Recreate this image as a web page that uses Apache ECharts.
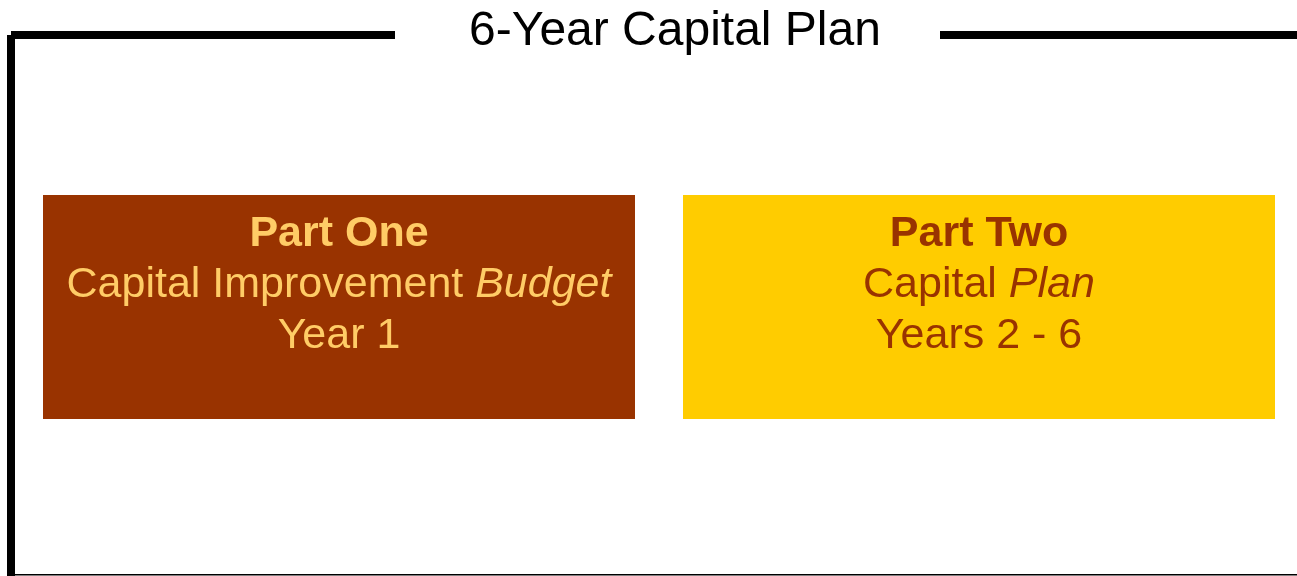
<!DOCTYPE html>
<html lang="en">
  <head>
    <meta charset="UTF-8" />
    <title>6-Year Capital Plan</title>
    <style>
      body {
        margin: 0;
        background-color: #ffffff;
      }
      #chart {
        width: 1297px;
        height: 576px;
      }
    </style>
    <script src="https://cdn.jsdelivr.net/npm/echarts@6/dist/echarts.min.js"></script>
  </head>
  <body>
    <div id="chart"></div>
    <script>
      // content
      const titleText = "6-Year Capital Plan";
      const partNames = ["Part One", "Part Two"];
      const partLead = ["Capital Improvement ", "Capital "];
      const partItalic = ["Budget", "Plan"];
      const partYears = ["Year 1", "Years 2 - 6"];

      const font = "'Liberation Sans', Arial, sans-serif";
      const boxFill = ["#993300", "#ffcc00"];
      const boxInk = ["#ffcc66", "#993300"];

      const W = 1297;
      const H = 576;

      function partBox(i) {
        const x = i === 0 ? 43 : 683;
        const w = 592;
        const ink = boxInk[i];
        return [
          {
            type: "rect",
            shape: { x: x, y: 195, width: w, height: 224 },
            style: { fill: boxFill[i] },
          },
          {
            type: "text",
            x: x + w / 2,
            y: 209,
            style: {
              text:
                "{b|" + partNames[i] + "}\n" +
                "{n|" + partLead[i] + "}{i|" + partItalic[i] + "}\n" +
                "{n|" + partYears[i] + "}",
              align: "center",
              verticalAlign: "top",
              rich: {
                b: { fontFamily: font, fontSize: 43, fontWeight: "bold", fill: ink, lineHeight: 51 },
                n: { fontFamily: font, fontSize: 43, fill: ink, lineHeight: 51 },
                i: { fontFamily: font, fontSize: 43, fontStyle: "italic", fill: ink, lineHeight: 51 },
              },
            },
          },
        ];
      }

      const chart = echarts.init(document.getElementById("chart"));
      chart.setOption({
        backgroundColor: "#ffffff",
        graphic: [
          // frame
          { type: "rect", shape: { x: 7, y: 35, width: 8, height: 541 }, style: { fill: "#000" } },
          { type: "rect", shape: { x: 11, y: 31, width: 384, height: 8 }, style: { fill: "#000" } },
          { type: "rect", shape: { x: 940, y: 31, width: W - 940, height: 8 }, style: { fill: "#000" } },
          { type: "rect", shape: { x: 15, y: 574, width: W - 15, height: 1.5 }, style: { fill: "#000" } },
          {
            type: "text",
            x: 675,
            y: 32,
            style: {
              text: titleText,
              fontFamily: font,
              fontSize: 48,
              fill: "#000",
              align: "center",
              verticalAlign: "middle",
            },
          },
          ...partBox(0),
          ...partBox(1),
        ],
      });
    </script>
  </body>
</html>
